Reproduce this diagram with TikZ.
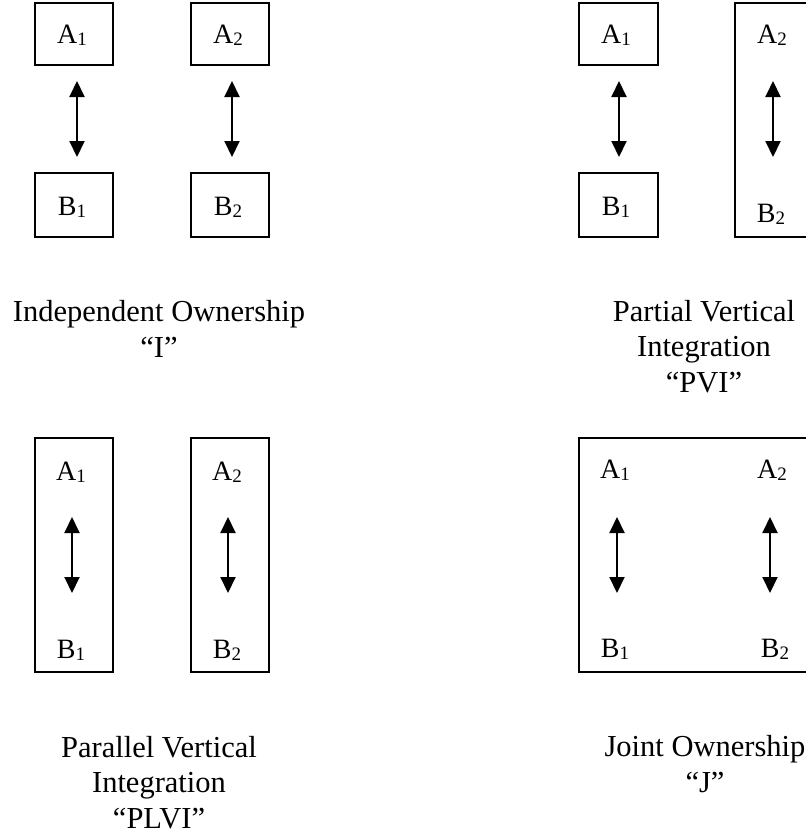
\documentclass[tikz,border=0pt]{standalone}
\usepackage{fontspec}
\setmainfont{Liberation Serif}
\usetikzlibrary{arrows.meta}
\newcommand{\lowsub}[1]{\raisebox{-2pt}{\fontsize{19}{19}\selectfont #1}}
\begin{document}
\begin{tikzpicture}[x=1pt,y=-1pt,
  box/.style={draw, line width=1.5pt},
  lbl/.style={font=\fontsize{28}{28}\selectfont, anchor=base, inner sep=0pt},
  caption/.style={font=\fontsize{30.5}{35.5}\selectfont, align=center, anchor=base, inner sep=0pt},
  biarrow/.style={line width=2pt, {Triangle[width=15pt,length=16pt]}-{Triangle[width=15pt,length=16pt]}}]
\useasboundingbox (0,0) rectangle (806,836);
\clip (0,0) rectangle (806,836);
\fill[white] (0,0) rectangle (806,836);

% ---- Independent Ownership ----
\draw[box] (35,3) rectangle (113,65);
\draw[box] (191,3) rectangle (269,65);
\draw[box] (35,173) rectangle (113,237);
\draw[box] (191,173) rectangle (269,237);
\node[lbl] (ia1) at (72,43) {A\lowsub{1}};
\node[lbl] (ia2) at (228,43) {A\lowsub{2}};
\node[lbl] (ib1) at (72,215) {B\lowsub{1}};
\node[lbl] (ib2) at (228,215) {B\lowsub{2}};
\coordinate (it1) at (77,81);  \coordinate (ib1e) at (77,157);
\coordinate (it2) at (232,81); \coordinate (ib2e) at (232,157);
\draw[biarrow] (it1) -- (ib1e);
\draw[biarrow] (it2) -- (ib2e);
\node[caption] (icap) at (159,357) {Independent Ownership\\“I”};

% ---- Partial Vertical Integration ----
\draw[box] (579,3) rectangle (658,65);
\draw[box] (579,173) rectangle (658,237);
\draw[box] (735,3) rectangle (813,237);
\node[lbl] (pa1) at (616,43) {A\lowsub{1}};
\node[lbl] (pb1) at (616,215) {B\lowsub{1}};
\node[lbl] (pa2) at (772,43) {A\lowsub{2}};
\node[lbl] (pb2) at (771,222) {B\lowsub{2}};
\coordinate (pt1) at (619,81);  \coordinate (pb1e) at (619,157);
\coordinate (pt2) at (773,81);  \coordinate (pb2e) at (773,157);
\draw[biarrow] (pt1) -- (pb1e);
\draw[biarrow] (pt2) -- (pb2e);
\node[caption] (pcap) at (704,392) {Partial Vertical\\Integration\\“PVI”};

% ---- Parallel Vertical Integration ----
\draw[box] (35,438) rectangle (113,672);
\draw[box] (191,438) rectangle (269,672);
\node[lbl] (la1) at (71,480) {A\lowsub{1}};
\node[lbl] (lb1) at (71,658) {B\lowsub{1}};
\node[lbl] (la2) at (227,480) {A\lowsub{2}};
\node[lbl] (lb2) at (227,658) {B\lowsub{2}};
\coordinate (lt1) at (72,517);  \coordinate (lb1e) at (72,593);
\coordinate (lt2) at (228,517); \coordinate (lb2e) at (228,593);
\draw[biarrow] (lt1) -- (lb1e);
\draw[biarrow] (lt2) -- (lb2e);
\node[caption] (lcap) at (159,828) {Parallel Vertical\\Integration\\“PLVI”};

% ---- Joint Ownership ----
\draw[box] (579,438) rectangle (813,672);
\node[lbl] (ja1) at (615,478) {A\lowsub{1}};
\node[lbl] (jb1) at (615,657) {B\lowsub{1}};
\node[lbl] (ja2) at (772,478) {A\lowsub{2}};
\node[lbl] (jb2) at (775,657) {B\lowsub{2}};
\coordinate (jt1) at (617,517);  \coordinate (jb1e) at (617,593);
\coordinate (jt2) at (770,517);  \coordinate (jb2e) at (770,593);
\draw[biarrow] (jt1) -- (jb1e);
\draw[biarrow] (jt2) -- (jb2e);
\node[caption] (jcap) at (705,792) {Joint Ownership\\“J”};
\end{tikzpicture}
\end{document}
